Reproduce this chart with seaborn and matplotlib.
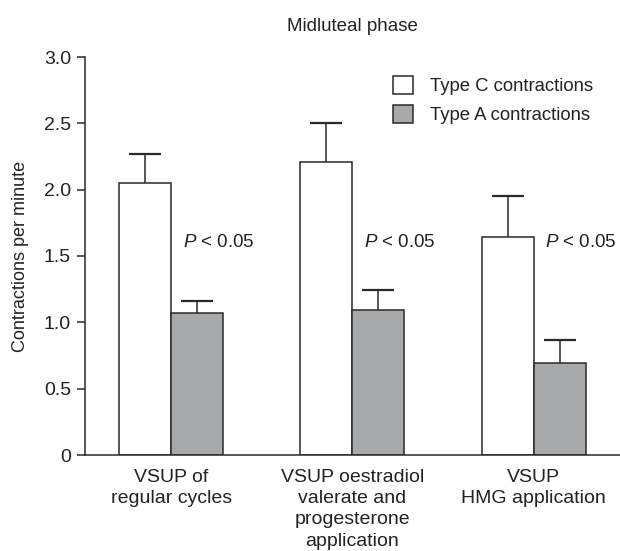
import matplotlib
matplotlib.use("Agg")
import matplotlib.pyplot as plt
import seaborn as sns
import pandas as pd
import numpy as np

categories = ["VSUP of\nregular cycles",
              "VSUP oestradiol\nvalerate and\nprogesterone\napplication",
              "VSUP\nHMG application"]
series_names = ["Type C contractions", "Type A contractions"]
type_c = [2.05, 2.21, 1.64]
type_a = [1.07, 1.09, 0.69]
err_c = [0.22, 0.29, 0.31]
err_a = [0.09, 0.15, 0.18]
y_ticks = [0, 0.5, 1.0, 1.5, 2.0, 2.5, 3.0]
y_tick_labels = ["0", "0.5", "1.0", "1.5", "2.0", "2.5", "3.0"]
p_label = "$P$ < 0.05"
p_y = 1.605

sns.set_style("ticks")
plt.rcParams["font.family"] = ["Liberation Sans", "DejaVu Sans"]
plt.rcParams["mathtext.fontset"] = "custom"
plt.rcParams["mathtext.it"] = "Liberation Sans:italic"
plt.rcParams["mathtext.rm"] = "Liberation Sans"

df = pd.DataFrame({
    "cat": categories * 2,
    "series": [series_names[0]] * 3 + [series_names[1]] * 3,
    "value": type_c + type_a,
})

fig = plt.figure(figsize=(6.2, 5.51), dpi=100)
ax = fig.add_axes([85 / 620, 96 / 551, 535 / 620, 398 / 551])

edge = "#2a2a2a"
txt = "#222222"
sns.barplot(data=df, x="cat", y="value", hue="series",
            palette={series_names[0]: "white", series_names[1]: "#a7a9ac"},
            width=0.574, gap=0, edgecolor=edge, linewidth=1.1,
            errorbar=None, ax=ax, legend=True)

for cont, errs in zip(ax.containers, [err_c, err_a]):
    xs = [b.get_x() + b.get_width() / 2 for b in cont]
    hs = [b.get_height() for b in cont]
    _, caps, _ = ax.errorbar(xs, hs, yerr=[np.zeros(len(errs)), errs], fmt="none",
                             ecolor=edge, elinewidth=1.1, capsize=11.5,
                             capthick=1.6, zorder=1)
    for c in caps:
        if np.allclose(np.asarray(c.get_ydata(), dtype=float), hs):
            c.set_visible(False)

for i in range(len(categories)):
    ax.text(i + 0.065, p_y, p_label, ha="left", va="center", fontsize=13.5, color=txt)

ax.set_xlim(-0.475, 2.477)
ax.set_ylim(0, 3.0)
ax.set_yticks(y_ticks)
ax.set_yticklabels(y_tick_labels)
ax.set_xlabel("")
ax.set_ylabel("Contractions per minute", fontsize=13, labelpad=11, color=txt)
ax.set_title("Midluteal phase", fontsize=13.5, pad=19, color=txt)

ax.tick_params(axis="y", length=6, width=1.1, colors=edge, labelsize=14, labelcolor=txt, pad=4)
ax.tick_params(axis="x", length=0, labelsize=14, labelcolor=txt, pad=10)
for lab in ax.get_xticklabels():
    lab.set_linespacing(1.33)
sns.despine(ax=ax, top=True, right=True)
for s in ["left", "bottom"]:
    ax.spines[s].set_color(edge)
    ax.spines[s].set_linewidth(1.1)

leg = ax.legend(loc="upper left", bbox_to_anchor=(0.576, 0.952), frameon=False,
                fontsize=13.3, handlelength=1.08, handleheight=1.08, handletextpad=0.9,
                labelspacing=0.55, borderpad=0, borderaxespad=0)
for h in leg.legend_handles:
    h.set_edgecolor(edge)
    h.set_linewidth(1.1)
for t in leg.get_texts():
    t.set_color(txt)

fig.savefig("out.png", dpi=100)
